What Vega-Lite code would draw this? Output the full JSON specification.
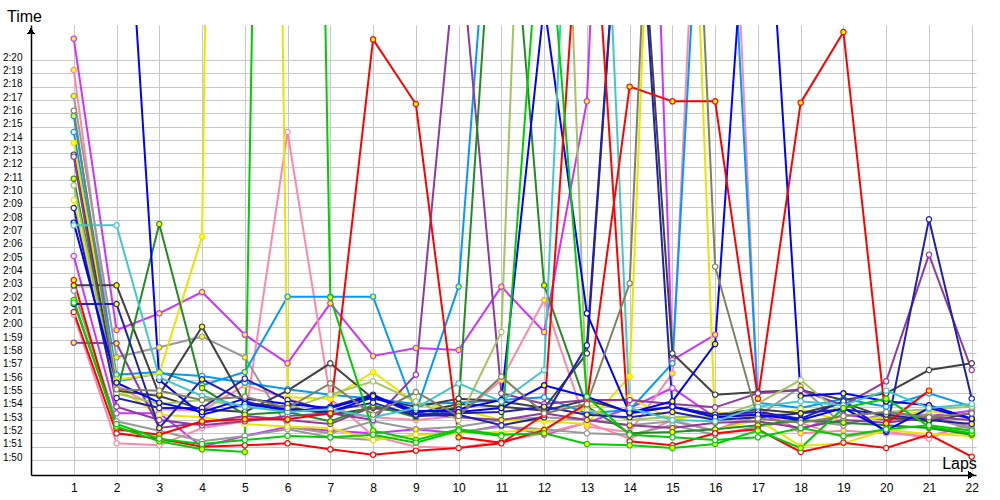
{
"$schema":"https://vega.github.io/schema/vega-lite/v6.json",
"autosize":{"type":"none"},
"width":945,"height":450,
"padding":{"left":31,"top":25,"right":24,"bottom":25},
"background":"#ffffff",
"config":{"view":{"stroke":null},"font":"Liberation Sans"},
"data":{"values":[
{"d":"A","lap":1,"t":141.6},{"d":"A","lap":2,"t":119.75},{"d":"A","lap":3,"t":121.0},{"d":"A","lap":4,"t":122.6},{"d":"A","lap":5,"t":119.4},{"d":"A","lap":6,"t":117.25},{"d":"A","lap":7,"t":121.75},{"d":"A","lap":8,"t":117.8},{"d":"A","lap":9,"t":118.4},{"d":"A","lap":10,"t":118.25},{"d":"A","lap":11,"t":123.0},{"d":"A","lap":12,"t":119.6},{"d":"A","lap":13,"t":136.9},{"d":"A","lap":14,"t":210},{"d":"A","lap":15,"t":117.5},{"d":"A","lap":16,"t":119.4},
{"d":"P","lap":1,"t":125.3},{"d":"P","lap":2,"t":113.5},{"d":"P","lap":3,"t":113.5},{"d":"P","lap":4,"t":111.0},{"d":"P","lap":5,"t":111.8},{"d":"P","lap":6,"t":112.5},{"d":"P","lap":7,"t":112.2},{"d":"P","lap":8,"t":112.0},{"d":"P","lap":9,"t":112.3},{"d":"P","lap":10,"t":112.0},{"d":"P","lap":11,"t":112.6},{"d":"P","lap":12,"t":111.9},{"d":"P","lap":13,"t":112.8},{"d":"P","lap":14,"t":113.9},{"d":"P","lap":15,"t":115.4},{"d":"P","lap":16,"t":113.2},{"d":"P","lap":17,"t":113.5},{"d":"P","lap":18,"t":112.3},{"d":"P","lap":19,"t":113.4},{"d":"P","lap":20,"t":113.0},{"d":"P","lap":21,"t":113.3},{"d":"P","lap":22,"t":113.7},
{"d":"B","lap":1,"t":139.25},{"d":"B","lap":2,"t":115.6},{"d":"B","lap":3,"t":113.8},{"d":"B","lap":4,"t":113.7},{"d":"B","lap":5,"t":115.6},{"d":"B","lap":6,"t":114.6},{"d":"B","lap":7,"t":113.6},{"d":"B","lap":8,"t":113.2},{"d":"B","lap":9,"t":113.0},{"d":"B","lap":10,"t":113.3},{"d":"B","lap":11,"t":116.0},{"d":"B","lap":12,"t":122.0},{"d":"B","lap":13,"t":112.5},{"d":"B","lap":14,"t":112.1},{"d":"B","lap":15,"t":116.5},{"d":"B","lap":16,"t":185},{"d":"B","lap":17,"t":114.0},{"d":"B","lap":18,"t":112.0},{"d":"B","lap":19,"t":112.2},{"d":"B","lap":20,"t":112.0},{"d":"B","lap":21,"t":111.8},{"d":"B","lap":22,"t":112.6},
{"d":"W","lap":1,"t":120.9},{"d":"W","lap":2,"t":111.25},{"d":"W","lap":3,"t":111.1},{"d":"W","lap":4,"t":112.4},{"d":"W","lap":5,"t":112.9},{"d":"W","lap":6,"t":134.6},{"d":"W","lap":7,"t":114.6},{"d":"W","lap":8,"t":111.8},{"d":"W","lap":9,"t":111.0},{"d":"W","lap":10,"t":110.9},{"d":"W","lap":11,"t":111.4},{"d":"W","lap":12,"t":112.0},{"d":"W","lap":13,"t":112.8},{"d":"W","lap":14,"t":111.6},{"d":"W","lap":15,"t":113.0},{"d":"W","lap":16,"t":112.2},{"d":"W","lap":17,"t":113.6},{"d":"W","lap":18,"t":112.8},{"d":"W","lap":19,"t":111.7},{"d":"W","lap":20,"t":112.2},{"d":"W","lap":21,"t":111.6},{"d":"W","lap":22,"t":112.9},
{"d":"C","lap":1,"t":137.3},{"d":"C","lap":2,"t":117.7},{"d":"C","lap":3,"t":118.45},{"d":"C","lap":4,"t":119.25},{"d":"C","lap":5,"t":117.7},{"d":"C","lap":6,"t":112.45},{"d":"C","lap":7,"t":112.0},{"d":"C","lap":8,"t":112.9},{"d":"C","lap":9,"t":112.3},{"d":"C","lap":10,"t":112.5},{"d":"C","lap":11,"t":113.0},{"d":"C","lap":12,"t":113.2},{"d":"C","lap":13,"t":113.0},{"d":"C","lap":14,"t":112.6},{"d":"C","lap":15,"t":112.9},{"d":"C","lap":16,"t":112.2},{"d":"C","lap":17,"t":113.3},{"d":"C","lap":18,"t":115.5},{"d":"C","lap":19,"t":112.6},{"d":"C","lap":20,"t":113.5},{"d":"C","lap":21,"t":113.4},{"d":"C","lap":22,"t":112.4},
{"d":"S","lap":1,"t":122.7},{"d":"S","lap":2,"t":112.9},{"d":"S","lap":3,"t":112.2},{"d":"S","lap":4,"t":111.4},{"d":"S","lap":5,"t":111.8},{"d":"S","lap":6,"t":112.3},{"d":"S","lap":7,"t":111.7},{"d":"S","lap":8,"t":111.5},{"d":"S","lap":9,"t":111.9},{"d":"S","lap":10,"t":112.1},{"d":"S","lap":11,"t":112.5},{"d":"S","lap":12,"t":112.3},{"d":"S","lap":13,"t":112.0},{"d":"S","lap":14,"t":111.9},{"d":"S","lap":15,"t":112.6},{"d":"S","lap":16,"t":111.9},{"d":"S","lap":17,"t":112.5},{"d":"S","lap":18,"t":113.0},{"d":"S","lap":19,"t":112.6},{"d":"S","lap":20,"t":113.5},{"d":"S","lap":21,"t":113.2},{"d":"S","lap":22,"t":112.3},
{"d":"E","lap":1,"t":135.8},{"d":"E","lap":2,"t":116.4},{"d":"E","lap":3,"t":116.6},{"d":"E","lap":4,"t":115.6},{"d":"E","lap":5,"t":116.6},{"d":"E","lap":6,"t":122.25},{"d":"E","lap":7,"t":122.25},{"d":"E","lap":8,"t":122.25},{"d":"E","lap":9,"t":113.6},{"d":"E","lap":10,"t":123.0},{"d":"E","lap":11,"t":165},
{"d":"F","lap":1,"t":134.6},{"d":"F","lap":2,"t":115.9},{"d":"F","lap":3,"t":116.5},{"d":"F","lap":4,"t":116.3},{"d":"F","lap":5,"t":115.8},{"d":"F","lap":6,"t":115.3},{"d":"F","lap":7,"t":114.9},{"d":"F","lap":8,"t":114.6},{"d":"F","lap":9,"t":114.2},{"d":"F","lap":10,"t":114.3},{"d":"F","lap":11,"t":114.5},{"d":"F","lap":12,"t":114.7},{"d":"F","lap":13,"t":113.5},{"d":"F","lap":14,"t":113.75},{"d":"F","lap":15,"t":117.25},{"d":"F","lap":16,"t":175},{"d":"F","lap":17,"t":114.3},{"d":"F","lap":18,"t":113.9},{"d":"F","lap":19,"t":114.6},{"d":"F","lap":20,"t":114.0},{"d":"F","lap":21,"t":115.0},{"d":"F","lap":22,"t":114.0},
{"d":"G","lap":1,"t":133.8},{"d":"G","lap":2,"t":116.0},{"d":"G","lap":3,"t":116.5},{"d":"G","lap":4,"t":126.75},{"d":"G","lap":5,"t":354},{"d":"G","lap":6,"t":114.7},{"d":"G","lap":7,"t":114.6},{"d":"G","lap":8,"t":116.6},{"d":"G","lap":9,"t":114.25},{"d":"G","lap":10,"t":113.8},{"d":"G","lap":11,"t":113.0},{"d":"G","lap":12,"t":112.9},{"d":"G","lap":13,"t":112.7},{"d":"G","lap":14,"t":116.25},{"d":"G","lap":15,"t":198},{"d":"G","lap":16,"t":112.25},{"d":"G","lap":17,"t":113.0},{"d":"G","lap":18,"t":111.05},{"d":"G","lap":19,"t":111.25},{"d":"G","lap":20,"t":112.25},{"d":"G","lap":21,"t":111.95},{"d":"G","lap":22,"t":111.8},
{"d":"L","lap":1,"t":129.5},{"d":"L","lap":2,"t":115.4},{"d":"L","lap":3,"t":113.4},{"d":"L","lap":4,"t":113.2},{"d":"L","lap":5,"t":112.7},{"d":"L","lap":6,"t":112.5},{"d":"L","lap":7,"t":112.4},{"d":"L","lap":8,"t":111.5},{"d":"L","lap":9,"t":111.9},{"d":"L","lap":10,"t":112.0},{"d":"L","lap":11,"t":112.1},{"d":"L","lap":12,"t":112.3},{"d":"L","lap":13,"t":114.0},{"d":"L","lap":14,"t":114.7},{"d":"L","lap":15,"t":113.0},{"d":"L","lap":16,"t":113.6},{"d":"L","lap":17,"t":113.1},{"d":"L","lap":18,"t":113.8},{"d":"L","lap":19,"t":112.9},{"d":"L","lap":20,"t":113.2},{"d":"L","lap":21,"t":113.7},{"d":"L","lap":22,"t":113.1},
{"d":"H","lap":1,"t":132.9},{"d":"H","lap":2,"t":115.2},{"d":"H","lap":3,"t":114.8},{"d":"H","lap":4,"t":113.8},{"d":"H","lap":5,"t":113.6},{"d":"H","lap":6,"t":115.2},{"d":"H","lap":7,"t":117.25},{"d":"H","lap":8,"t":114.6},{"d":"H","lap":9,"t":114.0},{"d":"H","lap":10,"t":114.6},{"d":"H","lap":11,"t":114.4},{"d":"H","lap":12,"t":113.9},{"d":"H","lap":13,"t":118.0},{"d":"H","lap":14,"t":164},{"d":"H","lap":15,"t":118.0},{"d":"H","lap":16,"t":114.9},{"d":"H","lap":17,"t":115.1},{"d":"H","lap":18,"t":115.25},{"d":"H","lap":19,"t":114.5},{"d":"H","lap":20,"t":115.0},{"d":"H","lap":21,"t":116.75},{"d":"H","lap":22,"t":117.25},
{"d":"R","lap":1,"t":123.1},{"d":"R","lap":2,"t":123.1},{"d":"R","lap":3,"t":114.9},{"d":"R","lap":4,"t":120.0},{"d":"R","lap":5,"t":114.25},{"d":"R","lap":6,"t":114.0},{"d":"R","lap":7,"t":113.4},{"d":"R","lap":8,"t":113.9},{"d":"R","lap":9,"t":113.5},{"d":"R","lap":10,"t":114.2},{"d":"R","lap":11,"t":114.0},{"d":"R","lap":12,"t":113.7},{"d":"R","lap":13,"t":114.5},{"d":"R","lap":14,"t":113.6},{"d":"R","lap":15,"t":114.0},{"d":"R","lap":16,"t":113.4},{"d":"R","lap":17,"t":113.8},{"d":"R","lap":18,"t":113.5},{"d":"R","lap":19,"t":114.3},{"d":"R","lap":20,"t":113.2},{"d":"R","lap":21,"t":112.9},{"d":"R","lap":22,"t":113.5},
{"d":"I","lap":1,"t":132.75},{"d":"I","lap":2,"t":114.0},{"d":"I","lap":3,"t":113.0},{"d":"I","lap":4,"t":112.6},{"d":"I","lap":5,"t":112.9},{"d":"I","lap":6,"t":113.3},{"d":"I","lap":7,"t":113.5},{"d":"I","lap":8,"t":113.0},{"d":"I","lap":9,"t":116.4},{"d":"I","lap":10,"t":150},{"d":"I","lap":11,"t":115.0},{"d":"I","lap":12,"t":114.2},{"d":"I","lap":13,"t":114.5},{"d":"I","lap":14,"t":114.5},{"d":"I","lap":15,"t":114.2},{"d":"I","lap":16,"t":113.95},{"d":"I","lap":17,"t":115.0},{"d":"I","lap":18,"t":115.25},{"d":"I","lap":19,"t":114.1},{"d":"I","lap":20,"t":115.9},{"d":"I","lap":21,"t":125.4},{"d":"I","lap":22,"t":116.75},
{"d":"X","lap":1,"t":118.8},{"d":"X","lap":2,"t":118.75},{"d":"X","lap":3,"t":112.4},{"d":"X","lap":4,"t":112.8},{"d":"X","lap":5,"t":113.3},{"d":"X","lap":6,"t":113.0},{"d":"X","lap":7,"t":112.7},{"d":"X","lap":8,"t":114.0},{"d":"X","lap":9,"t":113.5},{"d":"X","lap":10,"t":113.2},{"d":"X","lap":11,"t":113.0},{"d":"X","lap":12,"t":113.5},{"d":"X","lap":13,"t":113.0},{"d":"X","lap":14,"t":112.6},{"d":"X","lap":15,"t":112.4},{"d":"X","lap":16,"t":112.8},{"d":"X","lap":17,"t":112.9},{"d":"X","lap":18,"t":112.4},{"d":"X","lap":19,"t":113.0},{"d":"X","lap":20,"t":112.8},{"d":"X","lap":21,"t":113.2},{"d":"X","lap":22,"t":113.0},
{"d":"J","lap":1,"t":131.1},{"d":"J","lap":2,"t":114.9},{"d":"J","lap":3,"t":127.7},{"d":"J","lap":4,"t":115.4},{"d":"J","lap":5,"t":113.4},{"d":"J","lap":6,"t":113.6},{"d":"J","lap":7,"t":112.9},{"d":"J","lap":8,"t":114.1},{"d":"J","lap":9,"t":113.2},{"d":"J","lap":10,"t":114.0},{"d":"J","lap":11,"t":162},{"d":"J","lap":12,"t":123.1},{"d":"J","lap":13,"t":114.0},{"d":"J","lap":14,"t":112.0},{"d":"J","lap":15,"t":112.1},{"d":"J","lap":16,"t":112.3},{"d":"J","lap":17,"t":112.6},{"d":"J","lap":18,"t":113.0},{"d":"J","lap":19,"t":112.8},{"d":"J","lap":20,"t":112.6},{"d":"J","lap":21,"t":112.4},{"d":"J","lap":22,"t":111.9},
{"d":"K","lap":1,"t":130.6},{"d":"K","lap":2,"t":115.0},{"d":"K","lap":3,"t":114.2},{"d":"K","lap":4,"t":114.5},{"d":"K","lap":5,"t":114.0},{"d":"K","lap":6,"t":113.8},{"d":"K","lap":7,"t":114.9},{"d":"K","lap":8,"t":115.9},{"d":"K","lap":9,"t":114.4},{"d":"K","lap":10,"t":113.0},{"d":"K","lap":11,"t":119.6},{"d":"K","lap":12,"t":202},{"d":"K","lap":13,"t":113.75},{"d":"K","lap":14,"t":113.0},{"d":"K","lap":15,"t":113.25},{"d":"K","lap":16,"t":113.2},{"d":"K","lap":17,"t":114.25},{"d":"K","lap":18,"t":116.0},{"d":"K","lap":19,"t":113.3},{"d":"K","lap":20,"t":113.6},{"d":"K","lap":21,"t":113.8},{"d":"K","lap":22,"t":114.0},
{"d":"M","lap":1,"t":128.9},{"d":"M","lap":2,"t":114.65},{"d":"M","lap":3,"t":113.9},{"d":"M","lap":4,"t":113.9},{"d":"M","lap":5,"t":116.1},{"d":"M","lap":6,"t":114.5},{"d":"M","lap":7,"t":113.7},{"d":"M","lap":8,"t":114.3},{"d":"M","lap":9,"t":113.3},{"d":"M","lap":10,"t":113.4},{"d":"M","lap":11,"t":112.6},{"d":"M","lap":12,"t":113.2},{"d":"M","lap":13,"t":118.6},{"d":"M","lap":14,"t":164},{"d":"M","lap":15,"t":114.0},{"d":"M","lap":16,"t":113.4},{"d":"M","lap":17,"t":113.6},{"d":"M","lap":18,"t":113.1},{"d":"M","lap":19,"t":114.4},{"d":"M","lap":20,"t":112.1},{"d":"M","lap":21,"t":128.05},{"d":"M","lap":22,"t":114.6},
{"d":"U","lap":1,"t":121.7},{"d":"U","lap":2,"t":121.7},{"d":"U","lap":3,"t":112.4},{"d":"U","lap":4,"t":116.05},{"d":"U","lap":5,"t":114.4},{"d":"U","lap":6,"t":113.6},{"d":"U","lap":7,"t":114.0},{"d":"U","lap":8,"t":114.9},{"d":"U","lap":9,"t":113.4},{"d":"U","lap":10,"t":113.5},{"d":"U","lap":11,"t":113.6},{"d":"U","lap":12,"t":114.0},{"d":"U","lap":13,"t":113.4},{"d":"U","lap":14,"t":113.2},{"d":"U","lap":15,"t":113.6},{"d":"U","lap":16,"t":113.0},{"d":"U","lap":17,"t":113.2},{"d":"U","lap":18,"t":113.5},{"d":"U","lap":19,"t":113.8},{"d":"U","lap":20,"t":113.4},{"d":"U","lap":21,"t":113.0},{"d":"U","lap":22,"t":112.7},
{"d":"N","lap":1,"t":175},{"d":"N","lap":2,"t":166},{"d":"N","lap":3,"t":116.0},{"d":"N","lap":4,"t":113.4},{"d":"N","lap":5,"t":114.2},{"d":"N","lap":6,"t":113.8},{"d":"N","lap":7,"t":113.6},{"d":"N","lap":8,"t":114.7},{"d":"N","lap":9,"t":113.6},{"d":"N","lap":10,"t":113.8},{"d":"N","lap":11,"t":114.5},{"d":"N","lap":12,"t":144.2},{"d":"N","lap":13,"t":121.0},{"d":"N","lap":14,"t":113.5},{"d":"N","lap":15,"t":114.0},{"d":"N","lap":16,"t":113.2},{"d":"N","lap":17,"t":113.4},{"d":"N","lap":18,"t":113.0},{"d":"N","lap":19,"t":113.9},{"d":"N","lap":20,"t":112.2},{"d":"N","lap":21,"t":113.9},{"d":"N","lap":22,"t":113.1},
{"d":"Y2","lap":1,"t":127.8},{"d":"Y2","lap":2,"t":115.8},{"d":"Y2","lap":3,"t":114.3},{"d":"Y2","lap":4,"t":113.6},{"d":"Y2","lap":5,"t":114.6},{"d":"Y2","lap":6,"t":114.2},{"d":"Y2","lap":7,"t":113.9},{"d":"Y2","lap":8,"t":114.8},{"d":"Y2","lap":9,"t":113.7},{"d":"Y2","lap":10,"t":113.6},{"d":"Y2","lap":11,"t":113.9},{"d":"Y2","lap":12,"t":115.6},{"d":"Y2","lap":13,"t":114.75},{"d":"Y2","lap":14,"t":113.55},{"d":"Y2","lap":15,"t":114.4},{"d":"Y2","lap":16,"t":118.7},{"d":"Y2","lap":17,"t":165},{"d":"Y2","lap":18,"t":114.8},{"d":"Y2","lap":19,"t":115.0},{"d":"Y2","lap":20,"t":114.4},{"d":"Y2","lap":21,"t":114.1},{"d":"Y2","lap":22,"t":113.1},
{"d":"O","lap":1,"t":127.6},{"d":"O","lap":2,"t":127.6},{"d":"O","lap":3,"t":116.2},{"d":"O","lap":4,"t":114.8},{"d":"O","lap":5,"t":114.0},{"d":"O","lap":6,"t":113.6},{"d":"O","lap":7,"t":113.8},{"d":"O","lap":8,"t":113.2},{"d":"O","lap":9,"t":113.9},{"d":"O","lap":10,"t":115.75},{"d":"O","lap":11,"t":114.4},{"d":"O","lap":12,"t":116.75},{"d":"O","lap":13,"t":185},{"d":"O","lap":14,"t":113.9},{"d":"O","lap":15,"t":113.0},{"d":"O","lap":16,"t":112.9},{"d":"O","lap":17,"t":114.0},{"d":"O","lap":18,"t":114.4},{"d":"O","lap":19,"t":114.1},{"d":"O","lap":20,"t":115.2},{"d":"O","lap":21,"t":113.9},{"d":"O","lap":22,"t":114.2},
{"d":"Q","lap":1,"t":123.5},{"d":"Q","lap":2,"t":112.3},{"d":"Q","lap":3,"t":111.9},{"d":"Q","lap":4,"t":112.9},{"d":"Q","lap":5,"t":113.05},{"d":"Q","lap":6,"t":113.05},{"d":"Q","lap":7,"t":113.5},{"d":"Q","lap":8,"t":141.55},{"d":"Q","lap":9,"t":136.7},{"d":"Q","lap":10,"t":111.7},{"d":"Q","lap":11,"t":111.3},{"d":"Q","lap":12,"t":112.25},{"d":"Q","lap":13,"t":114.25},{"d":"Q","lap":14,"t":138.0},{"d":"Q","lap":15,"t":136.9},{"d":"Q","lap":16,"t":136.9},{"d":"Q","lap":17,"t":114.6},{"d":"Q","lap":18,"t":136.8},{"d":"Q","lap":19,"t":142.1},{"d":"Q","lap":20,"t":112.75},{"d":"Q","lap":21,"t":115.2},
{"d":"V","lap":1,"t":121.1},{"d":"V","lap":2,"t":112.0},{"d":"V","lap":3,"t":111.6},{"d":"V","lap":4,"t":111.0},{"d":"V","lap":5,"t":111.1},{"d":"V","lap":6,"t":111.25},{"d":"V","lap":7,"t":110.8},{"d":"V","lap":8,"t":110.4},{"d":"V","lap":9,"t":110.7},{"d":"V","lap":10,"t":110.9},{"d":"V","lap":11,"t":111.25},{"d":"V","lap":12,"t":113.4},{"d":"V","lap":13,"t":160},{"d":"V","lap":14,"t":111.4},{"d":"V","lap":15,"t":111.1},{"d":"V","lap":16,"t":112.0},{"d":"V","lap":17,"t":112.3},{"d":"V","lap":18,"t":110.6},{"d":"V","lap":19,"t":111.3},{"d":"V","lap":20,"t":110.9},{"d":"V","lap":21,"t":111.9},{"d":"V","lap":22,"t":110.25},
{"d":"T","lap":1,"t":122.0},{"d":"T","lap":2,"t":112.5},{"d":"T","lap":3,"t":111.4},{"d":"T","lap":4,"t":110.8},{"d":"T","lap":5,"t":110.6},{"d":"T","lap":6,"t":300},{"d":"T","lap":7,"t":122.2},{"d":"T","lap":8,"t":112.2},{"d":"T","lap":9,"t":111.5},{"d":"T","lap":10,"t":112.3},{"d":"T","lap":11,"t":111.9},{"d":"T","lap":12,"t":112.0},{"d":"T","lap":13,"t":111.2},{"d":"T","lap":14,"t":111.1},{"d":"T","lap":15,"t":110.9},{"d":"T","lap":16,"t":111.2},{"d":"T","lap":17,"t":112.2},{"d":"T","lap":18,"t":110.9},{"d":"T","lap":19,"t":113.9},{"d":"T","lap":20,"t":114.6},{"d":"T","lap":21,"t":112.5},{"d":"T","lap":22,"t":112.0},
{"d":"Z","lap":1,"t":121.8},{"d":"Z","lap":2,"t":112.7},{"d":"Z","lap":3,"t":111.6},{"d":"Z","lap":4,"t":111.2},{"d":"Z","lap":5,"t":111.5},{"d":"Z","lap":6,"t":111.8},{"d":"Z","lap":7,"t":111.7},{"d":"Z","lap":8,"t":111.9},{"d":"Z","lap":9,"t":111.3},{"d":"Z","lap":10,"t":112.2},{"d":"Z","lap":11,"t":111.8},{"d":"Z","lap":12,"t":155},{"d":"Z","lap":13,"t":114.75},{"d":"Z","lap":14,"t":111.9},{"d":"Z","lap":15,"t":111.7},{"d":"Z","lap":16,"t":111.5},{"d":"Z","lap":17,"t":111.7},{"d":"Z","lap":18,"t":112.4},{"d":"Z","lap":19,"t":111.8},{"d":"Z","lap":20,"t":112.3},{"d":"Z","lap":21,"t":112.6},{"d":"Z","lap":22,"t":112.2},
{"d":"D","lap":1,"t":136.2},{"d":"D","lap":2,"t":115.3},{"d":"D","lap":3,"t":115.2},{"d":"D","lap":4,"t":114.5},{"d":"D","lap":5,"t":114.75},{"d":"D","lap":6,"t":113.9},{"d":"D","lap":7,"t":115.75},{"d":"D","lap":8,"t":113.4},{"d":"D","lap":9,"t":115.1},{"d":"D","lap":10,"t":113.3},{"d":"D","lap":11,"t":116.25},{"d":"D","lap":12,"t":113.5},{"d":"D","lap":13,"t":114.2},{"d":"D","lap":14,"t":123.25},{"d":"D","lap":15,"t":194},{"d":"D","lap":16,"t":124.5},{"d":"D","lap":17,"t":113.1},{"d":"D","lap":18,"t":112.8},{"d":"D","lap":19,"t":113.3},{"d":"D","lap":20,"t":113.6},{"d":"D","lap":21,"t":113.2},{"d":"D","lap":22,"t":113.5}
]},
"layer":[
{"mark":{"type":"line","strokeWidth":2,"clip":true},
 "encoding":{
  "x":{"field":"lap","type":"quantitative","scale":{"domain":[0,22.1],"nice":false,"zero":false},
       "axis":{"values":[1,2,3,4,5,6,7,8,9,10,11,12,13,14,15,16,17,18,19,20,21,22],"tickCount":40,"format":"d","grid":true,"gridColor":"#c8c8c8","gridWidth":1,"domainColor":"#000000","domainWidth":1.5,"ticks":false,"tickSize":0,"labelFontSize":12,"labelFont":"Liberation Sans","labelColor":"#000000","labelPadding":7,"labelFlush":false,"labelOverlap":false,"title":"Laps","titleFont":"Liberation Sans","titleFontSize":16,"titleFontWeight":"normal","titleColor":"#000000","titleX":928,"titleY":-7,"titleAlign":"center","titleBaseline":"alphabetic"}},
  "y":{"field":"t","type":"quantitative","scale":{"domain":[108.875,142.625],"nice":false,"zero":false},
       "axis":{"values":[110,111,112,113,114,115,116,117,118,119,120,121,122,123,124,125,126,127,128,129,130,131,132,133,134,135,136,137,138,139,140],"tickCount":40,"grid":true,"gridColor":"#c8c8c8","gridWidth":1,"domainColor":"#000000","domainWidth":1.5,"ticks":false,"tickSize":0,"labelFontSize":10,"labelFont":"Liberation Sans","labelColor":"#000000","labelPadding":9,"labelBaseline":"alphabetic","labelOverlap":false,"labelFlush":false,"labelBound":false,
       "labelExpr":"floor(datum.value/60) + ':' + (datum.value % 60 < 10 ? '0' : '') + (datum.value % 60)",
       "title":"Time","titleAngle":0,"titleX":-7,"titleY":-4,"titleAlign":"center","titleBaseline":"alphabetic","titleFont":"Liberation Sans","titleFontSize":16,"titleFontWeight":"normal","titleColor":"#000000"}},
  "color":{"field":"d","type":"nominal","legend":null,
    "scale":{"domain":["A","P","B","W","C","S","E","F","G","L","H","R","I","X","J","K","M","U","N","Y2","O","Q","V","T","Z","D"],
             "range":["#cc33ff","#cc33ff","#ff88aa","#ff88aa","#999999","#999999","#0099ff","#0099ff","#e6e600","#e6e600","#404040","#404040","#8e3a9e","#8e3a9e","#228b22","#a3c463","#2020b0","#2020b0","#0000ff","#0000ff","#40c8c8","#ff0000","#ff0000","#00cc00","#00cc00","#808060"]}}
 }},
{"mark":{"type":"point","shape":"circle","filled":true,"size":28,"strokeWidth":1.2,"opacity":1,"clip":true},
 "encoding":{
  "x":{"field":"lap","type":"quantitative"},
  "y":{"field":"t","type":"quantitative"},
  "fill":{"field":"d","type":"nominal","legend":null,
    "scale":{"domain":["A","P","B","W","C","S","E","F","G","L","H","R","I","X","J","K","M","U","N","Y2","O","Q","V","T","Z","D"],
             "range":["#ffff00","#ffffff","#ffff00","#ffffff","#ffff00","#ffffff","#ffff00","#ffffff","#ffff00","#ffffff","#ffffff","#ffff00","#ffffff","#ffff00","#ffff00","#ffffff","#ffffff","#ffff00","#ffffff","#ffff00","#ffffff","#ffff00","#ffffff","#ffff00","#ffffff","#ffffff"]}},
  "stroke":{"field":"d","type":"nominal","legend":null,
    "scale":{"domain":["A","P","B","W","C","S","E","F","G","L","H","R","I","X","J","K","M","U","N","Y2","O","Q","V","T","Z","D"],
             "range":["#cc33ff","#cc33ff","#ff88aa","#ff88aa","#999999","#999999","#0099ff","#0099ff","#e6e600","#e6e600","#404040","#404040","#8e3a9e","#8e3a9e","#228b22","#a3c463","#2020b0","#2020b0","#0000ff","#0000ff","#40c8c8","#ff0000","#ff0000","#00cc00","#00cc00","#808060"]}}
 }},
{"mark":{"type":"point","shape":"triangle-up","filled":true,"color":"#000000","size":40,"opacity":1,"clip":false},
 "encoding":{"x":{"datum":0},"y":{"datum":142.15}}},
{"mark":{"type":"point","shape":"triangle-right","filled":true,"color":"#000000","size":40,"opacity":1,"clip":false},
 "encoding":{"x":{"datum":21.98},"y":{"datum":108.875}}}
]
}
